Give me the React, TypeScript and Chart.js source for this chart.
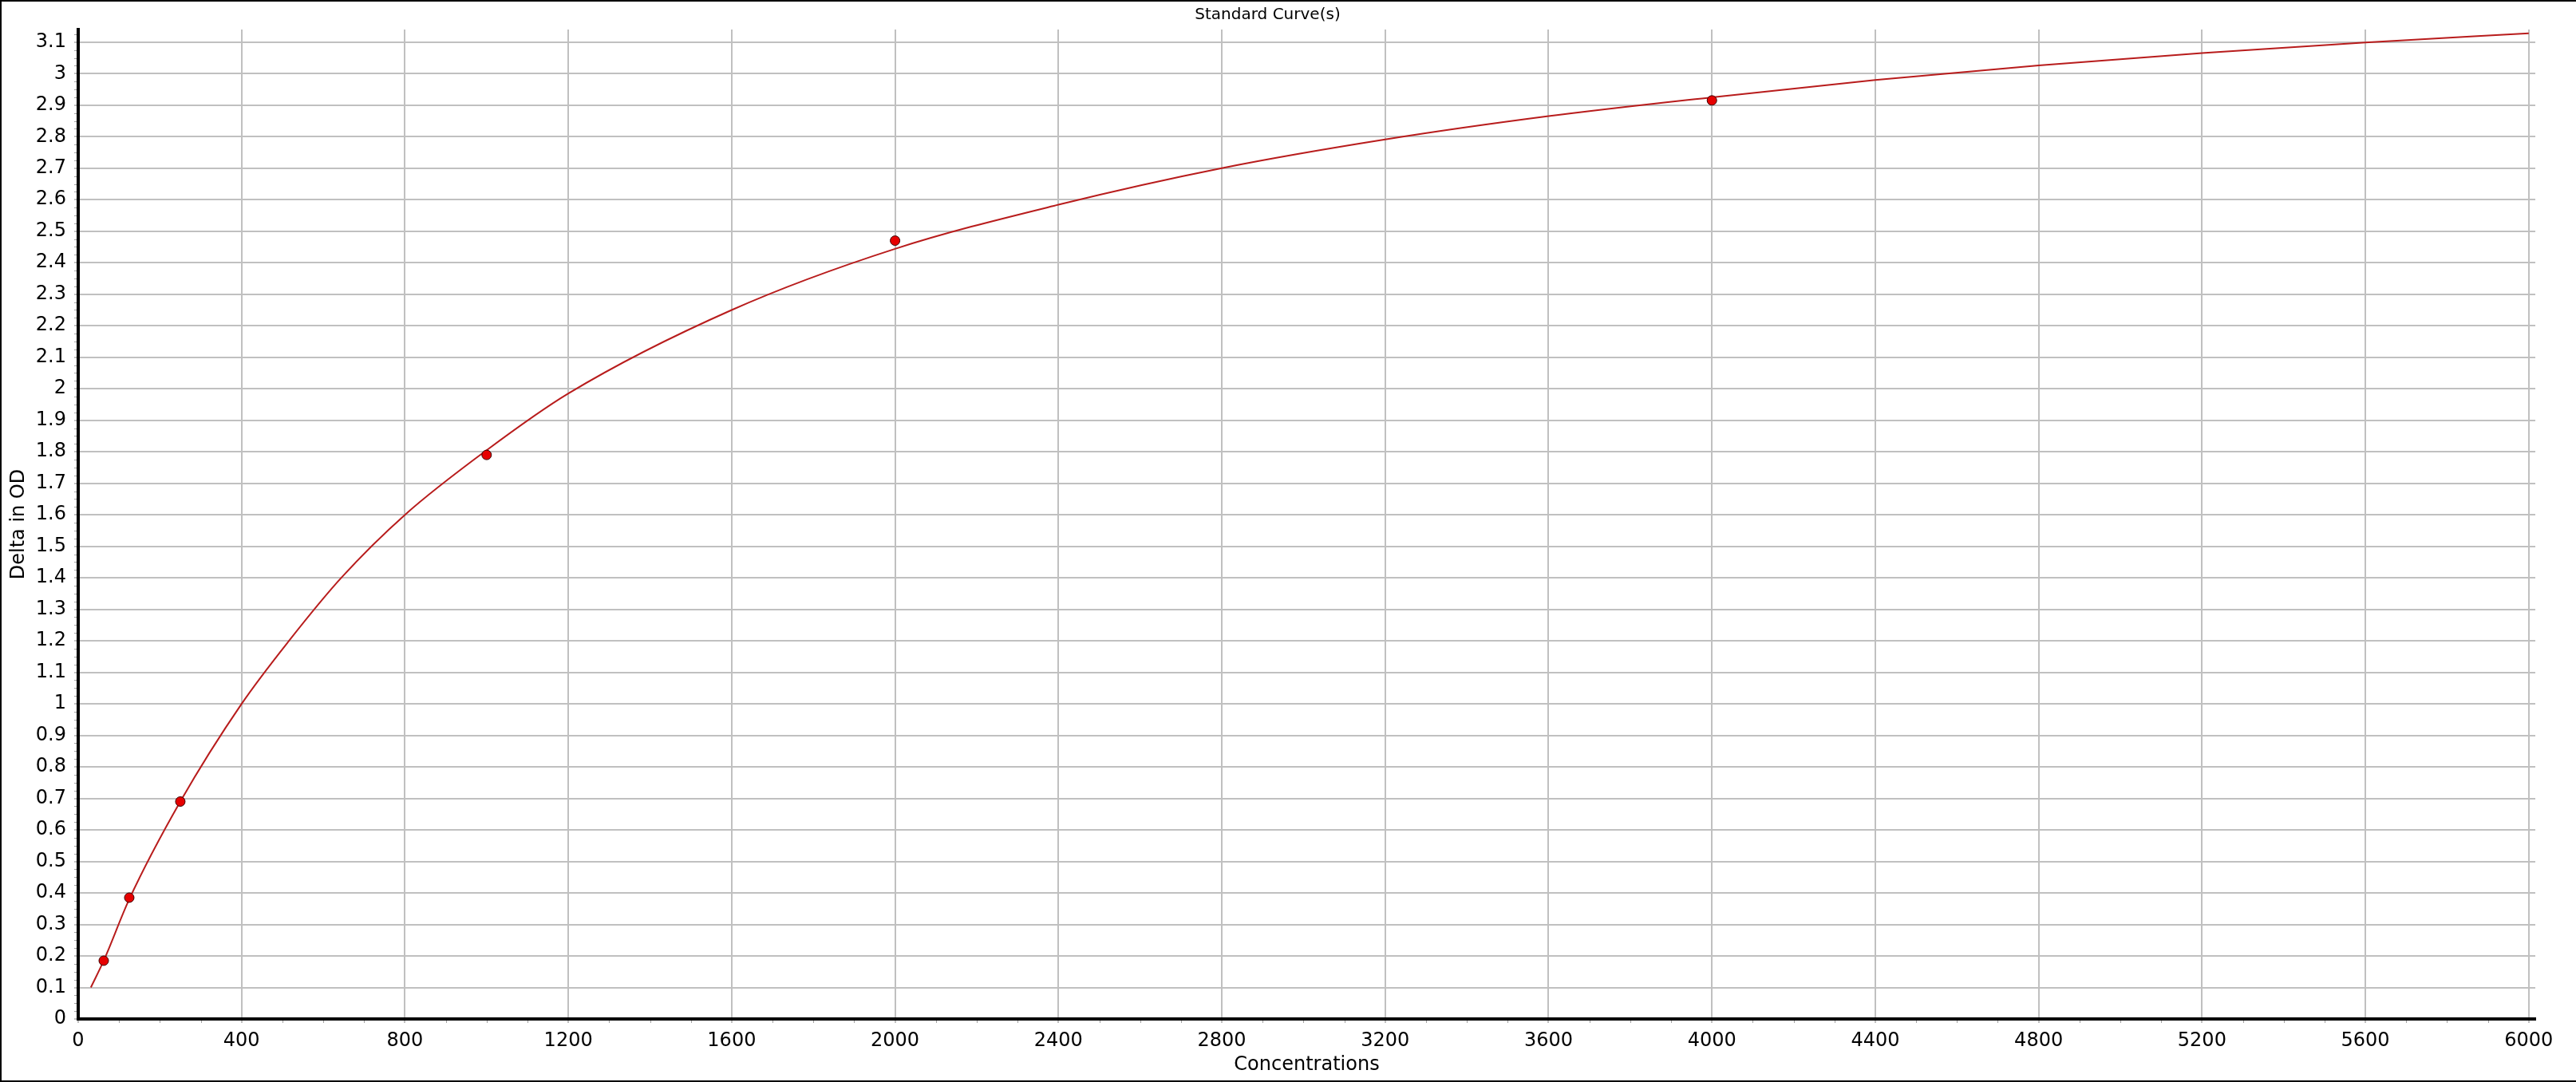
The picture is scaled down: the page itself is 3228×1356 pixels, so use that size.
import { useEffect, useRef } from "react";
import { Chart, registerables } from "chart.js";
Chart.register(...registerables);

// standards (measured points)
const stdConc = [62.5, 125, 250, 1000, 2000, 4000];
const stdOD = [0.185, 0.385, 0.69, 1.79, 2.47, 2.915];

// fitted curve
const fitConc = [31, 62.5, 125, 250, 400, 516, 644, 800, 1000, 1200, 1600, 2000, 2400, 2800, 3200, 3600, 4000, 4400, 4800, 5200, 5600, 6000];
const fitOD = [0.1, 0.185, 0.38, 0.69, 1.0, 1.2, 1.4, 1.6, 1.805, 1.985, 2.25, 2.444, 2.584, 2.7, 2.791, 2.865, 2.925, 2.98, 3.026, 3.065, 3.099, 3.128];

// tick values
const xTicks = [0, 400, 800, 1200, 1600, 2000, 2400, 2800, 3200, 3600, 4000, 4400, 4800, 5200, 5600, 6000];
const yTicks = [0, 0.1, 0.2, 0.3, 0.4, 0.5, 0.6, 0.7, 0.8, 0.9, 1, 1.1, 1.2, 1.3, 1.4, 1.5, 1.6, 1.7, 1.8, 1.9, 2, 2.1, 2.2, 2.3, 2.4, 2.5, 2.6, 2.7, 2.8, 2.9, 3, 3.1];

const FONT = '"DejaVu Sans", sans-serif';

const framePlugin = {
  id: "frame",
  beforeDraw(chart: Chart) {
    const { ctx, width, height } = chart;
    ctx.save();
    ctx.fillStyle = "#ffffff";
    ctx.fillRect(0, 0, width, height);
    ctx.restore();
  },
  afterDraw(chart: Chart) {
    const { ctx, width, height, chartArea } = chart;
    const xs: any = chart.scales.x;
    const ys: any = chart.scales.y;
    ctx.save();
    // minor ticks
    ctx.strokeStyle = "#a0a0a0";
    ctx.lineWidth = 1;
    for (let v = 100; v < 6000; v += 100) {
      if (v % 400 === 0) continue;
      const px = Math.round(xs.getPixelForValue(v)) + 0.5;
      ctx.beginPath();
      ctx.moveTo(px, chartArea.bottom + 2);
      ctx.lineTo(px, chartArea.bottom + 5);
      ctx.stroke();
    }
    for (let i = 1; i < 126; i++) {
      if (i % 4 === 0) continue;
      const py = Math.round(ys.getPixelForValue(i * 0.025)) + 0.5;
      ctx.beginPath();
      ctx.moveTo(chartArea.left - 5, py);
      ctx.lineTo(chartArea.left - 2, py);
      ctx.stroke();
    }
    // outer border
    ctx.strokeStyle = "#000000";
    ctx.lineWidth = 2;
    ctx.beginPath();
    ctx.moveTo(width, 1);
    ctx.lineTo(1, 1);
    ctx.lineTo(1, height - 1);
    ctx.lineTo(width, height - 1);
    ctx.stroke();
    ctx.restore();
  },
};

export default function App() {
  const canvasRef = useRef<HTMLCanvasElement>(null);
  const chartRef = useRef<Chart | null>(null);

  useEffect(() => {
    document.body.style.margin = "0";
    if (!canvasRef.current) return;
    if (chartRef.current) chartRef.current.destroy();

    chartRef.current = new Chart(canvasRef.current, {
      type: "scatter",
      data: {
        datasets: [
          {
            label: "Standards",
            data: stdConc.map((c, i) => ({ x: c, y: stdOD[i] })),
            backgroundColor: "#e60000",
            borderColor: "#3a0000",
            borderWidth: 1,
            pointRadius: 6,
            order: 0,
          },
          {
            label: "Fit",
            data: fitConc.map((c, i) => ({ x: c, y: fitOD[i] })),
            showLine: true,
            borderColor: "#b81c1c",
            borderWidth: 2,
            pointRadius: 0,
            cubicInterpolationMode: "monotone",
            order: 1,
          },
        ],
      },
      options: {
        animation: false,
        responsive: true,
        maintainAspectRatio: false,
        layout: { padding: { top: 0, right: 51, left: 0, bottom: 0 } },
        plugins: {
          legend: { display: false },
          tooltip: { enabled: false },
          title: {
            display: true,
            text: "Standard Curve(s)",
            color: "#000",
            font: { family: FONT, size: 20, weight: "normal" },
            padding: { top: 7, bottom: 6 },
          },
        },
        scales: {
          x: {
            type: "linear",
            min: 0,
            max: 6016,
            afterFit: (s: any) => { s.height = 79; },
            afterBuildTicks: (s: any) => { s.ticks = xTicks.map((v) => ({ value: v })); },
            ticks: {
              color: "#000",
              padding: 8,
              maxRotation: 0,
              autoSkip: false,
              font: { family: FONT, size: 24 },
              callback: (v: any) => String(Math.round(Number(v))),
            },
            grid: { color: "#c0c0c0", lineWidth: 2, tickLength: 5, tickColor: "#c0c0c0" },
            border: { display: true, color: "#000", width: 4 },
            title: {
              display: true,
              text: "Concentrations",
              color: "#000",
              font: { family: FONT, size: 24 },
              padding: { top: 0, bottom: 7 },
            },
          },
          y: {
            type: "linear",
            min: 0,
            max: 3.14,
            afterFit: (s: any) => { s.width = 98; },
            afterBuildTicks: (s: any) => { s.ticks = yTicks.map((v) => ({ value: v })); },
            ticks: {
              color: "#000",
              padding: 10,
              autoSkip: false,
              font: { family: FONT, size: 24 },
              callback: (v: any) => String(Math.round(Number(v) * 10) / 10),
            },
            grid: { color: "#c0c0c0", lineWidth: 2, tickLength: 5, tickColor: "#c0c0c0" },
            border: { display: true, color: "#000", width: 4 },
            title: {
              display: true,
              text: "Delta in OD",
              color: "#000",
              font: { family: FONT, size: 24 },
              padding: { top: 9, bottom: 0 },
            },
          },
        },
      },
      plugins: [framePlugin],
    } as any);

    return () => { chartRef.current?.destroy(); };
  }, []);

  return (
    <div style={{ position: "absolute", left: 0, top: 0, width: "3228px", height: "1356px" }}>
      <canvas ref={canvasRef}></canvas>
    </div>
  );
}
